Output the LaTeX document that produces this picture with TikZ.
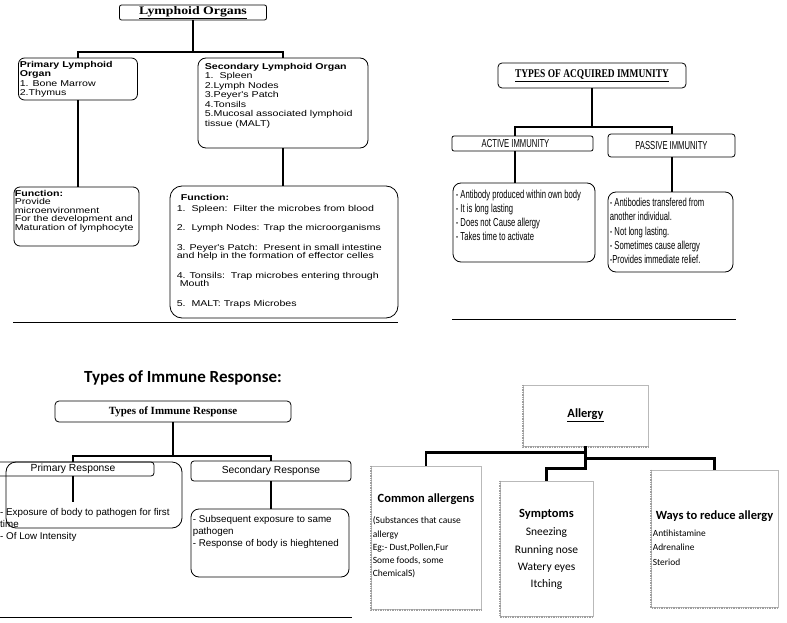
\documentclass[tikz,border=0pt]{standalone}
\usepackage{fontspec}
\newfontfamily\lofont[FakeStretch=1.25]{Liberation Sans}
\newfontfamily\loserif[FakeStretch=1.2]{Liberation Serif}
\newfontfamily\narrowsans[FakeStretch=0.66]{Liberation Sans}
\newfontfamily\narrowserif[FakeStretch=0.8]{Liberation Serif}
\newfontfamily\arialfont{Liberation Sans}
\newfontfamily\timesfont{Liberation Serif}
\newfontfamily\calibri{Carlito}
\usetikzlibrary{positioning}

\tikzset{
  obox/.style={draw, line width=0.8pt, rounded corners=#1, inner sep=0pt},
  obox/.default=6pt,
  abox/.style={draw=gray!55, line width=0.7pt, inner sep=0pt},
  ashadow/.style={densely dotted, line width=1.4pt, gray!75},
  txt/.style={inner sep=0pt, align=left, anchor=north west},
  hd/.style={inner sep=0pt, font=\calibri\bfseries\fontsize{12.5}{14}\selectfont},
  conn/.style={line width=2pt},
  aconn/.style={line width=2.4pt},
  rule/.style={line width=0.9pt}
}

\begin{document}
\begin{tikzpicture}[x=1pt,y=-1pt]
  \useasboundingbox (0,0) rectangle (787,623);

  % lymphoid organs
  \node [obox=2pt, minimum width=147pt, minimum height=15pt, font=\loserif\bfseries\fontsize{11.5}{12}\selectfont] (lo) at (193,12.5) {\underline{Lymphoid Organs}};
  \node [obox=6pt, minimum width=119pt, minimum height=42pt] (plo) at (78,79) {};
  \node [obox=8pt, minimum width=170pt, minimum height=90pt] (slo) at (283,103) {};
  \node [obox=6pt, minimum width=125pt, minimum height=59pt] (pf) at (76.5,216.5) {};
  \node [obox=12pt, minimum width=228pt, minimum height=132pt] (sf) at (284,252) {};
  \node [txt, font=\lofont\fontsize{8.5}{9.3}\selectfont, below right=3.5pt and 1.5pt of plo.north west] (plotxt)
    {\textbf{Primary Lymphoid}\\\textbf{Organ}\\1. Bone Marrow\\2.Thymus};
  \node [txt, font=\lofont\fontsize{8.5}{9.5}\selectfont, below right=5.5pt and 7pt of slo.north west] (slotxt)
    {\textbf{Secondary Lymphoid Organ}\\1.\ \ Spleen\\2.Lymph Nodes\\3.Peyer's Patch\\4.Tonsils\\5.Mucosal associated lymphoid\\tissue (MALT)};
  \node [txt, font=\lofont\fontsize{8.5}{8.4}\selectfont, below right=3.5pt and 1pt of pf.north west] (pftxt)
    {\textbf{Function:}\\Provide\\microenvironment\\For the development and\\Maturation of lymphocyte};
  \node [txt, font=\lofont\fontsize{8.5}{8.2}\selectfont, below right=9pt and 7pt of sf.north west] (sftxt)
    {\hspace*{4pt}\textbf{Function:}\\[2pt]
     1.\ \ Spleen:\ \ Filter the microbes from blood\\[11.5pt]
     2.\ \ Lymph Nodes: Trap the microorganisms\\[11.5pt]
     3. Peyer's Patch:\ \ Present in small intestine\\
     and help in the formation of effector celles\\[11.5pt]
     4. Tonsils:\ \ Trap microbes entering through\\
     \ Mouth\\[11.5pt]
     5.\ \ MALT: Traps Microbes};
  \coordinate (jlo) at (193,52);
  \draw [conn] (lo.south) -- (jlo) -| (plo.north);
  \draw [conn] (jlo) -| (slo.north);
  \draw [conn] (plo.south) -- (plo.south |- pf.north);
  \draw [conn] (slo.south) -- (slo.south |- sf.north);
  \draw [rule] (13,322) -- (398,322);

  % acquired immunity
  \node [obox=4pt, minimum width=188pt, minimum height=25pt, font=\narrowserif\bfseries\fontsize{11.8}{12}\selectfont] (tai) at (592,75.5) {\underline{TYPES OF ACQUIRED IMMUNITY}};
  \node [obox=2pt, minimum width=141pt, minimum height=15pt, font=\narrowsans\fontsize{11.6}{12}\selectfont] (act) at (522.5,143.5) {ACTIVE IMMUNITY\hspace*{14pt}};
  \node [obox=3pt, minimum width=127pt, minimum height=23pt, font=\narrowsans\fontsize{11.6}{12}\selectfont] (pas) at (671.5,145.5) {PASSIVE IMMUNITY};
  \node [obox=8pt, minimum width=142pt, minimum height=79pt] (actc) at (524,222.5) {};
  \node [obox=8pt, minimum width=125pt, minimum height=80pt] (pasc) at (670.5,232) {};
  \node [txt, font=\narrowsans\fontsize{11.6}{14}\selectfont, below right=7.5pt and 3pt of actc.north west] (acttxt)
    {- Antibody produced within own body\\- It is long lasting\\- Does not Cause allergy\\- Takes time to activate};
  \node [txt, font=\narrowsans\fontsize{11.6}{14.2}\selectfont, below right=6.5pt and 2pt of pasc.north west] (pastxt)
    {- Antibodies transfered from\\another individual.\\- Not long lasting.\\- Sometimes cause allergy\\-Provides immediate relief.};
  \coordinate (jtai) at (592,127);
  \draw [conn] (tai.south) -- (jtai) -| ([xshift=-7.5pt]act.north);
  \draw [conn] (jtai) -| (pas.north);
  \draw [conn] ([xshift=-7.5pt]act.south) -- ([xshift=-7.5pt]act.south |- actc.north);
  \draw [conn] (pas.south) -- (pas.south |- pasc.north);
  \draw [rule] (452,319) -- (736,319);

  % immune response
  \node [font=\calibri\bfseries\fontsize{17}{20}\selectfont] (tirhd) at (183,378) {Types of Immune Response:};
  \node [obox=4pt, minimum width=236pt, minimum height=21pt, font=\timesfont\bfseries\fontsize{11}{12}\selectfont] (tir) at (173,411.5) {Types of Immune Response};
  \node [obox=3pt, minimum width=162pt, minimum height=14pt, font=\arialfont\fontsize{10.3}{11}\selectfont] (prim) at (73,469) {Primary Response};
  \node [obox=10pt, minimum width=176pt, minimum height=66pt] (primc) at (94,495) {};
  \node [obox=3pt, minimum width=160pt, minimum height=20pt, font=\arialfont\fontsize{10.3}{11}\selectfont] (sec) at (271,471) {Secondary Response};
  \node [obox=8pt, minimum width=158pt, minimum height=68pt] (secc) at (270,543) {};
  \node [txt, font=\arialfont\fontsize{9.8}{12}\selectfont] (primtxt) at (0,508.5)
    {- Exposure of body to pathogen for first\\time\\- Of Low Intensity};
  \node [txt, font=\arialfont\fontsize{9.8}{12}\selectfont, below right=7pt and 2pt of secc.north west] (sectxt)
    {- Subsequent exposure to same\\pathogen\\- Response of body is hieghtened};
  \coordinate (jtir) at (173,456);
  \coordinate (pend) at (73,502);
  \draw [conn] (tir.south) -- (jtir) -| (prim.north);
  \draw [conn] (jtir) -| (sec.north);
  \draw [conn] (prim.south) -- (pend);
  \draw [conn] (sec.south) -- (sec.south |- secc.north);
  \draw [rule] (0,617) -- (352,617);

  % allergy
  \node [abox, minimum width=125pt, minimum height=61pt, font=\calibri\bfseries\fontsize{12.5}{14}\selectfont] (al) at (585.5,415.5) {\underline{Allergy}};
  \node [abox, minimum width=110pt, minimum height=143pt] (ca) at (426,537.5) {};
  \node [abox, minimum width=93pt, minimum height=135pt] (sy) at (546.5,548.5) {};
  \node [abox, minimum width=127pt, minimum height=137pt] (way) at (714.5,538.5) {};
  \foreach \n in {al,ca,sy,way}
    \draw [ashadow] ([xshift=0.3pt]\n.north west) -- ([xshift=0.3pt,yshift=-0.7pt]\n.south west) -- ([yshift=-0.7pt]\n.south east);
  \node [hd, below=27.6pt of ca.north] (cahd) {Common allergens};
  \node [hd, below=28pt of sy.north] (syhd) {Symptoms};
  \node [hd, below=40.7pt of way.north] (wayhd) {Ways to reduce allergy};
  \node [txt, font=\calibri\fontsize{9.5}{13.3}\selectfont, below right=51pt and 2pt of ca.north west] (catxt)
    {(Substances that cause\\allergy\\Eg:- Dust,Pollen,Fur\\Some foods, some\\ChemicalS)};
  \node [inner sep=0pt, align=center, font=\calibri\fontsize{11.5}{17.3}\selectfont, below=47pt of sy.north] (sytxt)
    {Sneezing\\Running nose\\Watery eyes\\Itching};
  \node [txt, font=\calibri\fontsize{9.4}{14.5}\selectfont, below right=59.8pt and 2pt of way.north west] (waytxt)
    {Antihistamine\\Adrenaline\\Steriod};
  \draw [aconn] (al.south) -- ++(0,6) -| (ca.north);
  \draw [aconn] (al.south) -- ++(0,12) -| (way.north);
  \draw [aconn] (al.south) -- ++(0,22) -| (sy.north);
\end{tikzpicture}
\end{document}
